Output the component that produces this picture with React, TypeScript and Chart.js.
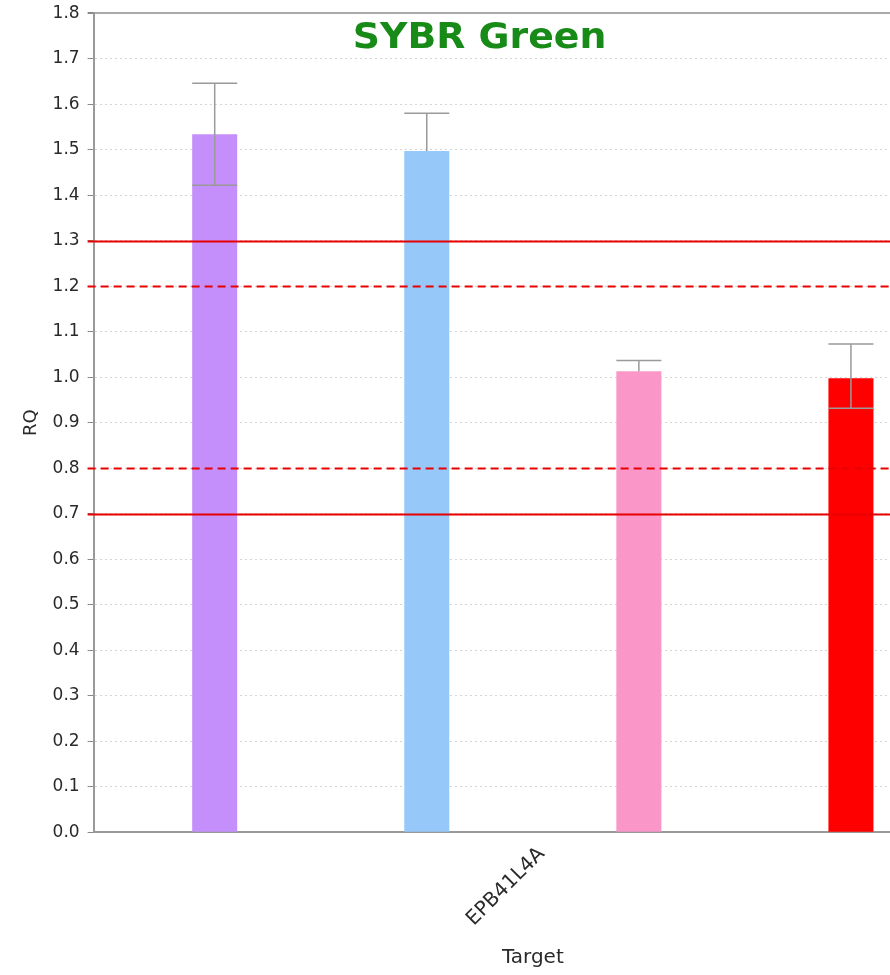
import React, { useEffect, useRef } from 'react';
import { Chart, registerables } from 'chart.js';

Chart.register(...registerables);

const FONT = "'DejaVu Sans', 'Liberation Sans', Arial, sans-serif";

const chartTitle = 'SYBR Green';
const categories = ['EPB41L4A'];
const sampleNames = ['Sample 1', 'Sample 2', 'Sample 3', 'Sample 4'];
const rqValues = [1.534, 1.497, 1.013, 0.998];
const rqMin = [1.422, 1.497, 1.013, 0.932];
const rqMax = [1.646, 1.58, 1.037, 1.073];
const barColors = ['#c48ffa', '#96c8fa', '#fa96c8', '#ff0000'];
const yMin = 0;
const yMax = 1.8;
const yStep = 0.1;
const refLineValues = [1.3, 1.2, 0.8, 0.7];
const refLineDashed = [false, true, true, false];

const isTopTick = (ctx: any) => ctx && ctx.tick && Math.abs(ctx.tick.value - yMax) < 1e-6;

const errorBarPlugin = {
  id: 'errorBars',
  afterDatasetsDraw(chart: any) {
    const { ctx, scales } = chart;
    const y = scales.y;
    ctx.save();
    ctx.strokeStyle = '#9a9a9a';
    ctx.lineWidth = 1.5;
    chart.data.datasets.forEach((_: any, i: number) => {
      const meta = chart.getDatasetMeta(i);
      const el = meta.data[0];
      if (!el) return;
      const x = el.x;
      const half = el.width / 2;
      const yHi = y.getPixelForValue(rqMax[i]);
      const yLo = y.getPixelForValue(rqMin[i]);
      ctx.beginPath();
      ctx.moveTo(x, yLo);
      ctx.lineTo(x, yHi);
      ctx.moveTo(x - half, yHi);
      ctx.lineTo(x + half, yHi);
      if (rqMin[i] < rqValues[i]) {
        ctx.moveTo(x - half, yLo);
        ctx.lineTo(x + half, yLo);
      }
      ctx.stroke();
    });
    ctx.restore();
  },
};

const refLinePlugin = {
  id: 'refLines',
  afterDatasetsDraw(chart: any) {
    const { ctx, scales, chartArea } = chart;
    const y = scales.y;
    ctx.save();
    ctx.strokeStyle = '#e80000';
    ctx.lineWidth = 1.8;
    refLineValues.forEach((v, i) => {
      const py = Math.round(y.getPixelForValue(v)) + 0.5;
      ctx.setLineDash(refLineDashed[i] ? [8, 5] : []);
      ctx.beginPath();
      ctx.moveTo(chartArea.left - 6, py);
      ctx.lineTo(chart.width, py);
      ctx.stroke();
    });
    ctx.restore();
  },
};

const inPlotTitlePlugin = {
  id: 'inPlotTitle',
  afterDraw(chart: any) {
    const { ctx, chartArea } = chart;
    ctx.save();
    ctx.translate(chartArea.left + 386, chartArea.top + 35);
    ctx.scale(1.08, 1);
    ctx.font = `bold 35px ${FONT}`;
    ctx.fillStyle = '#178a17';
    ctx.textAlign = 'center';
    ctx.textBaseline = 'alphabetic';
    ctx.fillText(chartTitle, 0, 0);
    ctx.restore();
  },
};

export default function App() {
  const canvasRef = useRef<HTMLCanvasElement | null>(null);

  useEffect(() => {
    if (!canvasRef.current) return;
    const chart = new Chart(canvasRef.current, {
      type: 'bar',
      data: {
        labels: categories,
        datasets: sampleNames.map((name, i) => ({
          label: name,
          data: [rqValues[i]],
          backgroundColor: barColors[i],
          borderWidth: 0,
          categoryPercentage: 0.9658,
          barPercentage: 0.2123,
        })),
      },
      options: {
        animation: false,
        responsive: false,
        devicePixelRatio: 1,
        layout: { padding: { top: 7, left: 10, right: 8, bottom: 3 } },
        plugins: {
          legend: { display: false },
          tooltip: { enabled: false },
          title: { display: false },
        },
        scales: {
          x: {
            type: 'category',
            grid: { display: false, drawTicks: false },
            border: { display: true, color: '#999', width: 2 },
            ticks: {
              minRotation: 45,
              maxRotation: 45,
              padding: 10,
              labelOffset: 9,
              color: '#2a2a2a',
              font: { family: FONT, size: 20 },
            },
            title: {
              display: true,
              text: 'Target',
              color: '#2a2a2a',
              font: { family: FONT, size: 20 },
              padding: { top: 5, bottom: 2 },
            },
          },
          y: {
            min: yMin,
            max: yMax,
            ticks: {
              stepSize: yStep,
              color: '#2a2a2a',
              padding: 8,
              font: { family: FONT, size: 17 },
              callback: (v: any) => Number(v).toFixed(1),
            },
            grid: {
              color: (ctx: any) => (isTopTick(ctx) ? '#aaaaaa' : '#d4d4d4'),
              lineWidth: (ctx: any) => (isTopTick(ctx) ? 2 : 1),
              tickLength: 6,
              tickColor: '#888',
              drawTicks: true,
            },
            border: {
              display: true,
              color: '#999',
              width: 2,
              dash: (ctx: any) => (isTopTick(ctx) ? [] : [2, 3]),
            },
            title: {
              display: true,
              text: 'RQ',
              color: '#2a2a2a',
              font: { family: FONT, size: 18 },
              padding: { top: 11, bottom: 2 },
            },
          },
        },
      },
      plugins: [errorBarPlugin, refLinePlugin, inPlotTitlePlugin],
    });
    return () => chart.destroy();
  }, []);

  return (
    <div
      style={{
        position: 'absolute',
        left: 0,
        top: 0,
        width: 890,
        height: 975,
        overflow: 'hidden',
        background: '#fff',
      }}
    >
      <canvas
        ref={canvasRef}
        width={980}
        height={980}
        style={{ display: 'block', marginTop: -5 }}
      />
    </div>
  );
}
